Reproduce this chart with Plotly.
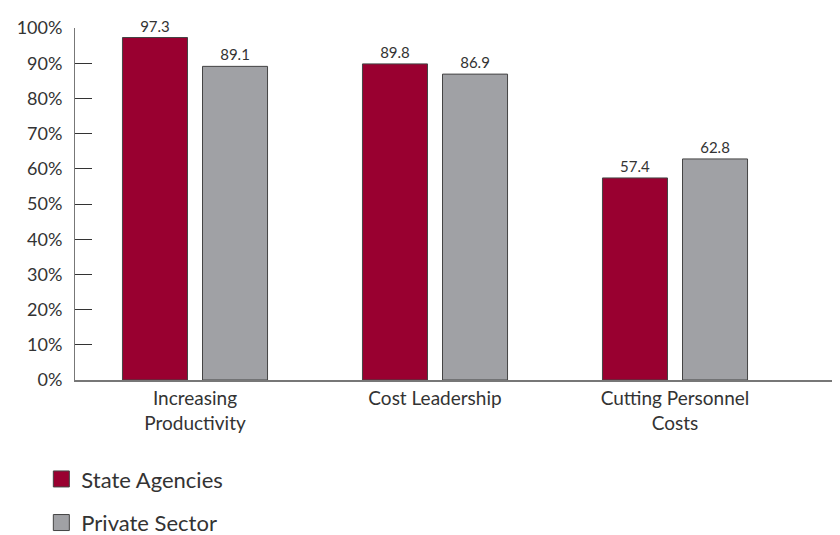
import plotly.graph_objects as go

categories = ["Increasing<br>Productivity", "Cost Leadership", "Cutting Personnel<br>Costs"]
state_agencies = [97.3, 89.8, 57.4]
private_sector = [89.1, 86.9, 62.8]
tick_vals = [0, 10, 20, 30, 40, 50, 60, 70, 80, 90, 100]
tick_text = [f"{v}%" for v in tick_vals]

font_family = "Lato, Open Sans, sans-serif"
RED = "#990030"
GREY = "#A0A1A5"
EDGE = "#444444"

fig = go.Figure()
fig.add_trace(go.Bar(
    x=categories, y=state_agencies, name="State Agencies",
    marker=dict(color=RED, line=dict(color=EDGE, width=1)),
    text=[f"{v:.1f}" for v in state_agencies], textposition="outside",
    textfont=dict(size=15, color="#333333"), cliponaxis=False,
    showlegend=False,
))
fig.add_trace(go.Bar(
    x=categories, y=private_sector, name="Private Sector",
    marker=dict(color=GREY, line=dict(color=EDGE, width=1)),
    text=[f"{v:.1f}" for v in private_sector], textposition="outside",
    textfont=dict(size=15, color="#333333"), cliponaxis=False,
    showlegend=False,
))
# legend entries (square swatches)
for name, col, grp in [("State Agencies", RED, "a"), ("Private Sector", GREY, "b")]:
    fig.add_trace(go.Scatter(
        x=[None], y=[None], mode="markers", name=name, legendgroup=grp,
        marker=dict(symbol="square", size=16, color=col, line=dict(color=EDGE, width=1)),
        showlegend=True,
    ))

fig.update_layout(
    width=840, height=565,
    margin=dict(l=67, r=8, t=14, b=193),
    paper_bgcolor="white", plot_bgcolor="white",
    font=dict(family=font_family, size=18, color="#333333"),
    barmode="group", bargap=0.333, bargroupgap=0.1875,
    showlegend=True,
    legend=dict(x=-0.044, y=-0.222, xanchor="left", yanchor="top",
                orientation="v", tracegroupgap=12, itemsizing="trace",
                font=dict(size=22, color="#333333"),
                bgcolor="rgba(0,0,0,0)"),
    xaxis=dict(range=[-0.5, 2.6875], showline=True, linecolor="#777777", linewidth=2,
               ticks="", tickfont=dict(size=19, color="#333333"), showgrid=False,
               fixedrange=True),
    yaxis=dict(range=[0, 100], tickvals=tick_vals, ticktext=tick_text,
               showline=True, linecolor="#777777", linewidth=1,
               ticks="inside", ticklen=17, tickcolor="#333333", tickwidth=1,
               showgrid=False, zeroline=False, tickfont=dict(size=18, color="#333333"),
               ticklabelstandoff=8),
)

fig.write_html("out.html")
